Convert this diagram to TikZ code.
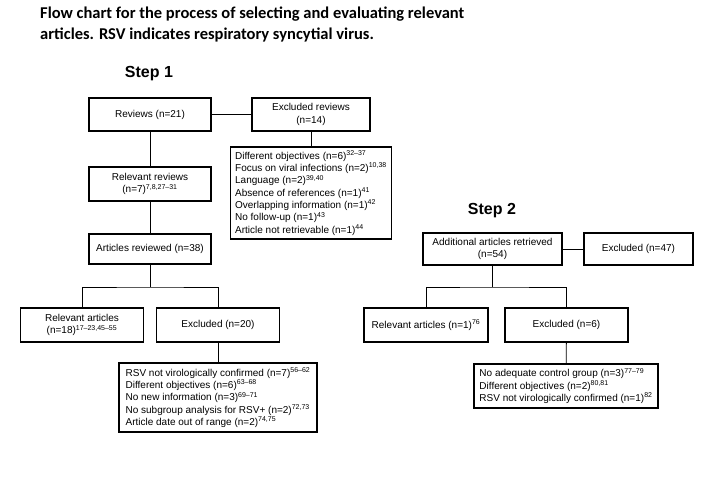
\documentclass[tikz,border=0pt]{standalone}
\usepackage{fontspec}
\setmainfont{Liberation Sans}
\newfontfamily\capfont{Carlito}
\usetikzlibrary{positioning}

\begin{document}
\begin{tikzpicture}[x=1pt,y=-1pt, every node/.style={font=\fontsize{10}{12.3}\selectfont}, box/.style={draw,line width=1.2pt,align=center,inner sep=2pt}, list/.style={box,align=left}, link/.style={line width=0.8pt}, steplabel/.style={font=\fontsize{16}{19}\selectfont\bfseries}]
\useasboundingbox (0,0) rectangle (720,498);
\node[anchor=north west,align=left,inner sep=0pt,font=\capfont\fontsize{16.5}{20.5}\selectfont\bfseries] (title) at (40,7) {Flow chart for the process of selecting and evaluating relevant\\articles. RSV indicates respiratory syncytial virus.};
% step 1
\node[steplabel] (step1) at (149,74) {Step 1};
\node[box,minimum width=122pt,minimum height=33pt] (rev) at (150,114.5) {Reviews (n=21)};
\node[box,minimum width=118pt,minimum height=33pt] (exrev) at (311,114.5) {Excluded reviews\\(n=14)};
\node[list,minimum width=161pt,minimum height=92pt] (exrevlist) at (311,193) {Different objectives (n=6)\textsuperscript{32--37}\\Focus on viral infections (n=2)\textsuperscript{10,38}\\Language (n=2)\textsuperscript{39,40}\\Absence of references (n=1)\textsuperscript{41}\\Overlapping information (n=1)\textsuperscript{42}\\No follow-up (n=1)\textsuperscript{43}\\Article not retrievable (n=1)\textsuperscript{44}};
\node[box,minimum width=122pt,minimum height=34pt] (relrev) at (150,184) {Relevant reviews\\(n=7)\textsuperscript{7,8,27--31}};
\node[box,minimum width=122pt,minimum height=30pt] (art) at (150,249) {Articles reviewed (n=38)};
\node[box,minimum width=123pt,minimum height=34pt] (relart) at (82,325) {Relevant articles\\(n=18)\textsuperscript{17--23,45--55}};
\node[box,minimum width=123pt,minimum height=34pt] (exc20) at (218,325) {Excluded (n=20)};
\node[list,minimum width=198pt,minimum height=69pt] (exc20list) at (218,397.5) {RSV not virologically confirmed (n=7)\textsuperscript{56--62}\\Different objectives (n=6)\textsuperscript{63--68}\\No new information (n=3)\textsuperscript{69--71}\\No subgroup analysis for RSV+ (n=2)\textsuperscript{72,73}\\Article date out of range (n=2)\textsuperscript{74,75}};
\coordinate (split1) at (150,287);
\draw[link] (rev) -- (exrev);
\draw[link] (exrev) -- (exrevlist);
\draw[link] (rev) -- (relrev);
\draw[link] (relrev) -- (art);
\draw[link] (art) -- (split1);
\draw[link] (relart) |- (split1) -| (exc20);
\draw[link] (exc20) -- (exc20list);
% step 2
\node[steplabel] (step2) at (492,211) {Step 2};
\node[box,minimum width=139pt,minimum height=32pt] (addart) at (492.5,249) {Additional articles retrieved\\(n=54)};
\node[box,minimum width=109pt,minimum height=32pt] (exc47) at (638.5,249) {Excluded (n=47)};
\node[box,minimum width=124pt,minimum height=34pt] (relart2) at (426,325) {Relevant articles (n=1)\textsuperscript{76}};
\node[box,minimum width=123pt,minimum height=34pt] (exc6) at (566.5,325) {Excluded (n=6)};
\node[list,minimum width=184pt,minimum height=44pt] (exc6list) at (566,386) {No adequate control group (n=3)\textsuperscript{77--79}\\Different objectives (n=2)\textsuperscript{80,81}\\RSV not virologically confirmed (n=1)\textsuperscript{82}};
\coordinate (split2) at (492.5,287);
\draw[link] (addart) -- (exc47);
\draw[link] (addart) -- (split2);
\draw[link] (relart2) |- (split2) -| (exc6);
\draw[link] (exc6) -- (exc6list);
\end{tikzpicture}
\end{document}
